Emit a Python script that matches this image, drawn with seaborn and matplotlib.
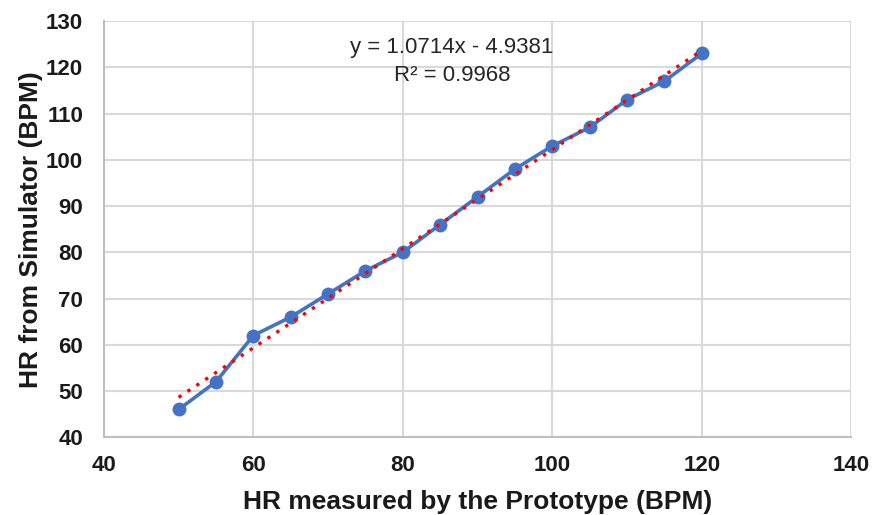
import numpy as np
import pandas as pd
import matplotlib
matplotlib.use("Agg")
import matplotlib.pyplot as plt
import seaborn as sns

# data
hr_prototype = [50, 55, 60, 65, 70, 75, 80, 85, 90, 95, 100, 105, 110, 115, 120]
hr_simulator = [46, 52, 62, 66, 71, 76, 80, 86, 92, 98, 103, 107, 113, 117, 123]
slope, intercept = 1.0714, -4.9381
r_squared = 0.9968

df = pd.DataFrame({"x": hr_prototype, "y": hr_simulator})

sns.set_style("white")
plt.rcParams["font.family"] = ["Liberation Sans", "DejaVu Sans"]

fig, ax = plt.subplots(figsize=(8.73, 5.15), dpi=100)
fig.subplots_adjust(left=0.119, right=0.975, top=0.959, bottom=0.151)

ax.grid(True, color="#D9D9D9", linewidth=1.5)
ax.set_axisbelow(True)

sns.lineplot(data=df, x="x", y="y", ax=ax, color="#4472C4", linewidth=2.6,
             marker="o", markersize=10, markeredgewidth=0, zorder=3)

# linear trendline
xs = np.array([min(hr_prototype), max(hr_prototype)])
ax.plot(xs, slope * xs + intercept, color="#FF0000", linestyle=(0, (1, 2.2)),
        linewidth=2.4, zorder=4)

ax.text(86.6, 124.2, f"y = {slope}x - {abs(intercept)}", ha="center", va="center", fontsize=16)
ax.text(86.6, 118.3, f"R² = {r_squared}", ha="center", va="center", fontsize=16)

ax.set_xlim(40, 140)
ax.set_ylim(40, 130)
ax.set_xticks(range(40, 141, 20))
ax.set_yticks(range(40, 131, 10))
for lab in ax.get_xticklabels() + ax.get_yticklabels():
    lab.set_fontweight("bold")
    lab.set_fontsize(16)
    lab.set_color("#1a1a1a")
ax.tick_params(axis="x", length=0, pad=13)
ax.tick_params(axis="y", length=0, pad=15)

ax.set_xlabel("HR measured by the Prototype (BPM)", fontsize=19, fontweight="bold",
              labelpad=10, color="#1a1a1a")
ax.set_ylabel("HR from Simulator (BPM)", fontsize=19, fontweight="bold",
              labelpad=2, color="#1a1a1a")

for s in ["top", "right"]:
    ax.spines[s].set_visible(False)
for s in ["left", "bottom"]:
    ax.spines[s].set_color("#BFBFBF")
    ax.spines[s].set_linewidth(1.5)

fig.savefig("out.png", dpi=100)
